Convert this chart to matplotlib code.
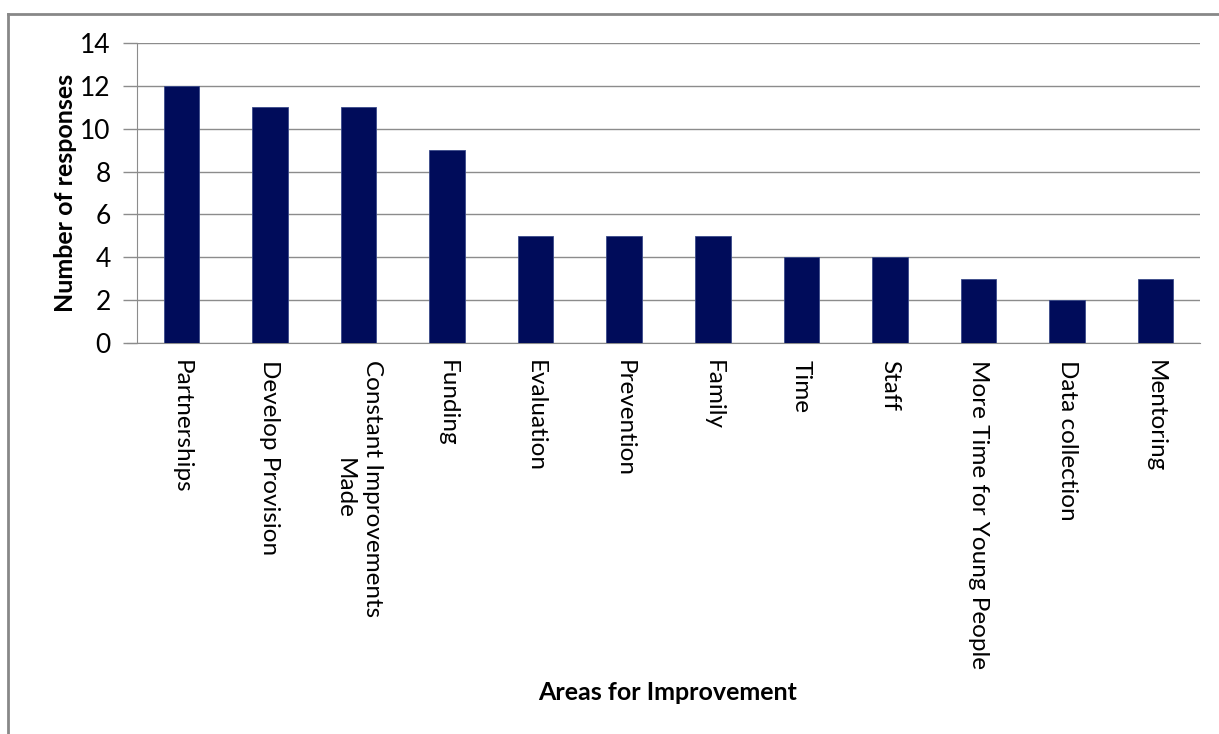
import matplotlib.pyplot as plt
from matplotlib.lines import Line2D

categories = [
    'Partnerships', 'Develop Provision', 'Constant Improvements\nMade',
    'Funding', 'Evaluation', 'Prevention', 'Family', 'Time', 'Staff',
    'More Time for Young People', 'Data collection', 'Mentoring',
]
responses = [12, 11, 11, 9, 5, 5, 5, 4, 4, 3, 2, 3]
y_ticks = [0, 2, 4, 6, 8, 10, 12, 14]

plt.rcParams['font.family'] = ['Lato', 'DejaVu Sans']

fig = plt.figure(figsize=(12.19, 7.34), dpi=100)
ax = fig.add_axes([0.1124, 0.5327, 0.8720, 0.4087])

grey = '#8c8c8c'
x = range(len(categories))
ax.bar(x, responses, width=0.4, color='#000c5a', edgecolor='#3a4a8a',
       linewidth=0.6, zorder=3)

ax.set_xlim(-0.5, len(categories) - 0.5)
ax.set_ylim(0, 14)
ax.set_yticks(y_ticks)
ax.set_xticks(list(x))
ax.set_xticklabels(categories, rotation=270, ha='center', va='top',
                   multialignment='center', fontsize=17.5, linespacing=1.45)
ax.tick_params(axis='x', length=0, pad=12)
ax.tick_params(axis='y', length=10, width=1, color=grey, labelsize=19, pad=9)

ax.grid(axis='y', color=grey, linewidth=1, zorder=0)
for side in ['top', 'right']:
    ax.spines[side].set_visible(False)
ax.spines['left'].set_color(grey)
ax.spines['bottom'].set_color(grey)
ax.spines['bottom'].set_bounds(-0.61, len(categories) - 0.5)

ax.set_ylabel('Number of responses', fontsize=18, fontweight='bold', labelpad=2)
fig.text(0.548, 0.056, 'Areas for Improvement', ha='center', va='center',
         fontsize=18, fontweight='bold')

# outer chart border (top and left edges)
fig.add_artist(Line2D([8 / 1219, 1], [1 - 14 / 734, 1 - 14 / 734],
                      color='#888888', linewidth=2, transform=fig.transFigure))
fig.add_artist(Line2D([8 / 1219, 8 / 1219], [0, 1 - 14 / 734],
                      color='#888888', linewidth=2, transform=fig.transFigure))

fig.savefig('out.png', dpi=100)
